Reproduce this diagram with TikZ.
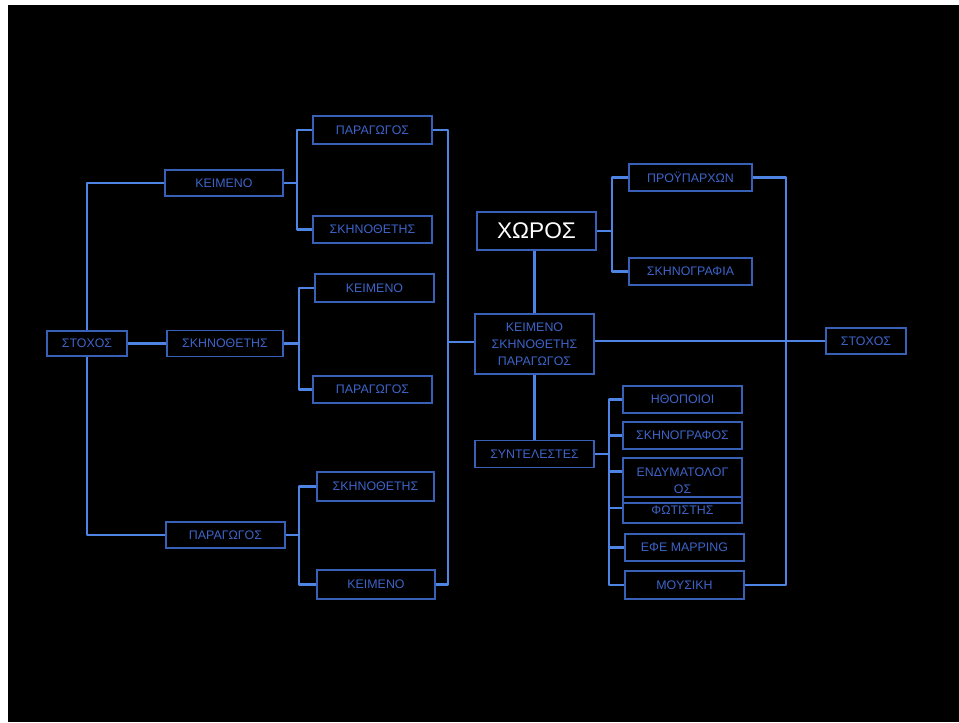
\documentclass[tikz,border=0pt]{standalone}
\usepackage{fontspec}
\setmainfont{Liberation Sans}
\definecolor{lineblue}{RGB}{78,132,228}
\definecolor{boxblue}{RGB}{55,96,182}
\definecolor{txtblue}{RGB}{62,100,200}
\begin{document}
\begin{tikzpicture}[x=0.75pt,y=-0.75pt,
  bx/.style={draw=boxblue, line width=1.2pt, text=txtblue, inner sep=0pt,
    font=\fontsize{9.3}{12.75}\selectfont, align=center,
    minimum width=89.25pt, minimum height=20.25pt},
  conn/.style={draw=lineblue, line width=2.2pt, line join=round}]
\useasboundingbox (0,0) rectangle (959,722);
\fill[white] (0,0) rectangle (959,722);
\fill[black] (8,5) rectangle (959,722);

% left tree
\node[bx, minimum width=60pt, minimum height=18.75pt] (stL) at (87,343.5) {ΣΤΟΧΟΣ};
\node[bx, minimum width=88.5pt, minimum height=19.5pt] (k1) at (224,183) {ΚΕΙΜΕΝΟ};
\node[bx, minimum width=87pt, minimum height=19.5pt] (s1) at (225,343.5) {ΣΚΗΝΟΘΕΤΗΣ};
\node[bx, minimum width=89.25pt, minimum height=19.5pt] (p1) at (225.5,535) {ΠΑΡΑΓΩΓΟΣ};

\node[bx, minimum height=21pt] (c11) at (372.5,130) {ΠΑΡΑΓΩΓΟΣ};
\node[bx] (c12) at (372.5,229.5) {ΣΚΗΝΟΘΕΤΗΣ};
\node[bx, minimum height=21pt] (c21) at (374.5,288) {ΚΕΙΜΕΝΟ};
\node[bx] (c22) at (372.5,389.5) {ΠΑΡΑΓΩΓΟΣ};
\node[bx, minimum width=87.75pt, minimum height=21.75pt] (c31) at (375.5,486.5) {ΣΚΗΝΟΘΕΤΗΣ};
\node[bx, minimum width=88.5pt, minimum height=21.75pt] (c32) at (376,584.5) {ΚΕΙΜΕΝΟ};

% center
\node[bx, minimum height=45pt] (cen) at (534.5,344) {ΚΕΙΜΕΝΟ\\ΣΚΗΝΟΘΕΤΗΣ\\ΠΑΡΑΓΩΓΟΣ};
\node[bx, minimum height=28.5pt, text=white, font=\fontsize{17}{18}\selectfont] (xor) at (536.5,231) {ΧΩΡΟΣ};
\node[bx] (syn) at (534.5,454) {ΣΥΝΤΕΛΕΣΤΕΣ};

% right
\node[bx, minimum width=92.25pt] (pro) at (690.5,177.5) {ΠΡΟΫΠΑΡΧΩΝ};
\node[bx, minimum width=92.25pt] (skg) at (690.5,271.5) {ΣΚΗΝΟΓΡΑΦΙΑ};
\node[bx, minimum width=60pt, minimum height=19.5pt] (stR) at (866,341) {ΣΤΟΧΟΣ};

\node[bx] (h1) at (682.5,399.5) {ΗΘΟΠΟΙΟΙ};
\node[bx] (h2) at (682.5,435.5) {ΣΚΗΝΟΓΡΑΦΟΣ};
\node[bx, minimum height=33.75pt] (h3) at (682.5,480.5) {ΕΝΔΥΜΑΤΟΛΟΓ\\ΟΣ};
\node[bx, minimum height=19.5pt] (h4) at (682.5,510) {ΦΩΤΙΣΤΗΣ};
\node[bx] (h5) at (684.5,547.5) {ΕΦΕ MAPPING};
\node[bx, minimum height=21pt] (h6) at (684.5,585) {ΜΟΥΣΙΚΗ};

% bracket points
\coordinate (b1) at (297,183);
\coordinate (b2) at (299,343.5);
\coordinate (b3) at (299,535);
\coordinate (rb) at (448,342);
\coordinate (b4) at (612,231);
\coordinate (rr) at (786,380);
\coordinate (b5) at (609,454);

% connectors left
\draw[conn] (k1.west) -| (stL.north);
\draw[conn] (p1.west) -| (stL.south);
\draw[conn] (stL.east) -- (s1.west);

\draw[conn] (k1.east) -- (b1);
\draw[conn] (c11.west) -| (b1) |- (c12.west);
\draw[conn] (s1.east) -- (b2);
\draw[conn] (c21.west) -| (b2) |- (c22.west);
\draw[conn] (p1.east) -- (b3);
\draw[conn] (c31.west) -| (b3) |- (c32.west);

\draw[conn] (c11.east) -| (rb) |- (c32.east);
\draw[conn] (rb) -- (cen.west |- rb);

% center connectors
\draw[conn] (cen.north) -- (cen.north |- xor.south);
\draw[conn] (cen.south) -- (syn.north);
\draw[conn] (stR.west) -- (stR.west -| cen.east);

\draw[conn] (xor.east) -- (b4);
\draw[conn] (pro.west) -| (b4) |- (skg.west);
\draw[conn] (pro.east) -| (rr) |- (h6.east);

\draw[conn] (syn.east) -- (b5);
\draw[conn] (h1.west) -| (b5) |- (h6.west);
\draw[conn] (h2.west) -- (h2.west -| b5);
\draw[conn] ([yshift=6.75pt]h3.west) -- ([yshift=6.75pt]h3.west -| b5);
\draw[conn] ([yshift=1.5pt]h4.west) -- ([yshift=1.5pt]h4.west -| b5);
\draw[conn] (h5.west) -- (h5.west -| b5);
\end{tikzpicture}
\end{document}
